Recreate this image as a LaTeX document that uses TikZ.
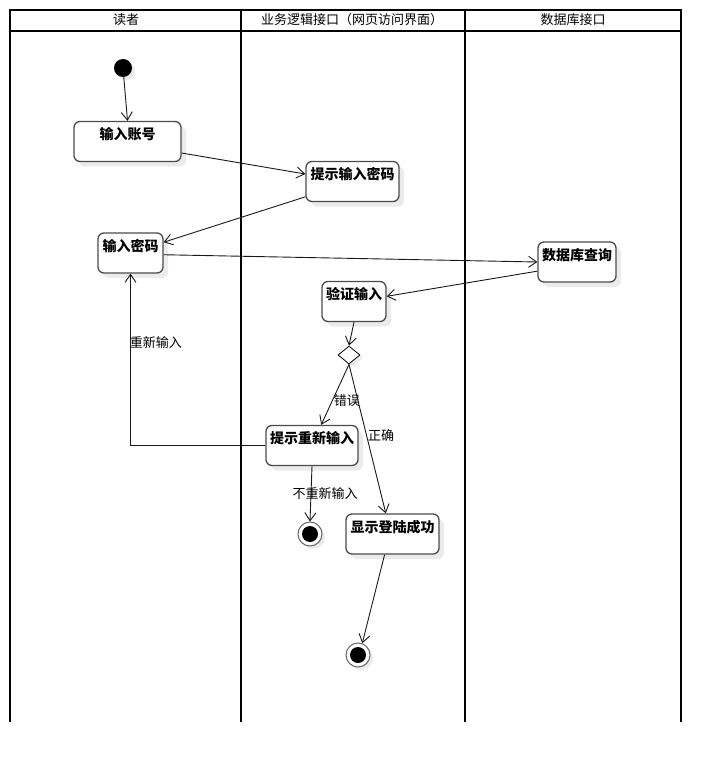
\documentclass[tikz,border=0pt]{standalone}
\usepackage{fontspec}
\newfontfamily\cjk{Noto Sans CJK SC}
\usetikzlibrary{arrows.meta,shapes.geometric,shadows}

\begin{document}
\begin{tikzpicture}[
  x=1pt, y=-1pt,
  lane_line/.style={line width=2.8pt, black},
  frame_line/.style={line width=2pt, black},
  lane_title/.style={font=\cjk\fontsize{13}{15}\selectfont},
  act_box/.style={rectangle, rounded corners=6pt, draw=black!70, line width=1.3pt, fill=white,
    minimum height=40pt, inner sep=3pt, text height=15pt, text depth=19pt,
    font=\cjk\bfseries\fontsize{14}{16}\selectfont,
    drop shadow={shadow xshift=5pt, shadow yshift=-5pt, fill=black!8, opacity=1}},
  start_dot/.style={circle, fill=black, minimum size=18pt, inner sep=0pt,
    drop shadow={shadow xshift=3pt, shadow yshift=-3pt, fill=black!8, opacity=1}},
  end_dot/.style={circle, draw=black!60, line width=1pt, fill=white, minimum size=24pt, inner sep=0pt,
    path picture={\fill[black] (path picture bounding box.center) circle (8pt);},
    drop shadow={shadow xshift=3pt, shadow yshift=-3pt, fill=black!8, opacity=1}},
  choice/.style={diamond, draw=black, line width=0.8pt, fill=white, minimum width=22pt, minimum height=18pt, inner sep=0pt,
    drop shadow={shadow xshift=3pt, shadow yshift=-3pt, fill=black!8, opacity=1}},
  flow/.style={draw=black!90, line width=0.9pt, -{Straight Barb[length=8pt,width=11pt]}},
  flow_label/.style={font=\cjk\fontsize{13}{15}\selectfont, inner sep=1pt},
]
\useasboundingbox (0,0) rectangle (721,762);

\draw[frame_line] (10,10) -- (681,10);
\draw[frame_line] (10,31) -- (681,31);
\draw[lane_line] (10,9) -- (10,722);
\draw[lane_line] (241,9) -- (241,722);
\draw[lane_line] (465,9) -- (465,722);
\draw[lane_line] (681,9) -- (681,722);
\draw (126,20) node (L1) [lane_title] {读者};
\draw (352,20) node (L2) [lane_title] {业务逻辑接口（网页访问界面）};
\draw (573,20) node (L3) [lane_title] {数据库接口};

\draw (123,68) node (start) [start_dot] {};
\draw (127.5,141.5) node (acc) [act_box, minimum width=107pt] {输入账号};
\draw (352.5,181.5) node (pwd_hint) [act_box, minimum width=93pt] {提示输入密码};
\draw (130.5,253) node (pwd) [act_box, minimum width=65pt] {输入密码};
\draw (577,262) node (db) [act_box, minimum width=78pt] {数据库查询};
\draw (354,301.5) node (check) [act_box, minimum width=64pt] {验证输入};
\draw (349,355) node (dec) [choice] {};
\draw (312,445.5) node (retry) [act_box, minimum width=92pt] {提示重新输入};
\draw (392.5,534) node (ok) [act_box, minimum width=93pt] {显示登陆成功};
\draw (310,534) node (end1) [end_dot] {};
\draw (358,655) node (end2) [end_dot] {};

\draw[flow] (start) -- (acc.north);
\draw[flow] (acc.-12) -- (pwd_hint.171);
\draw[flow] (pwd_hint.198) -- (pwd.18);
\draw[flow] (pwd.-3) -- (db.west);
\draw[flow] (db.193) -- (check.9);
\draw[flow] (check.south) -- (dec.north);
\draw[flow] (dec.south) -- (retry.66) node (l_err) [flow_label, pos=0.6, right] {错误};
\draw[flow] (dec.south) -- (ok.108) node (l_ok) [flow_label, pos=0.48, right] {正确};
\draw[flow] (retry.west) -| (pwd.south) node (l_again) [flow_label, pos=0.8, right, xshift=-2pt] {重新输入};
\draw[flow] (retry.south) -- (end1.north) node (l_quit) [flow_label, pos=0.5, xshift=14pt] {不重新输入};
\draw[flow] (ok.249) -- (end2.70);
\end{tikzpicture}
\end{document}
